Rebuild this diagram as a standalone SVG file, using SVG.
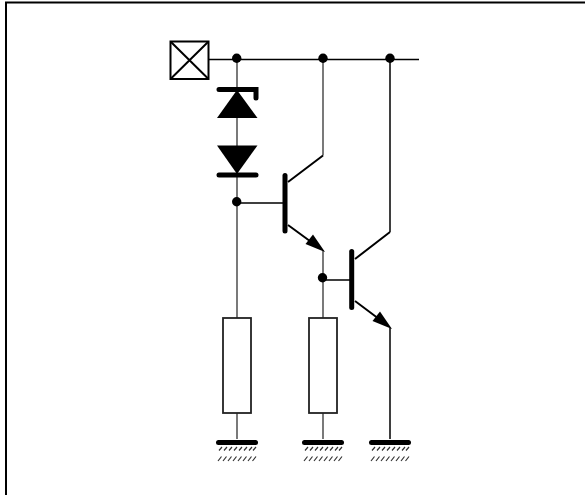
<svg xmlns="http://www.w3.org/2000/svg" width="585" height="495" viewBox="0 0 585 495">
<defs>
<style>
.w{fill:none;stroke:#000;stroke-width:1.5}
.g{fill:none;stroke:#333;stroke-width:1.3}
.t{fill:none;stroke:#000;stroke-width:2}
.b{fill:none;stroke:#000;stroke-linecap:round}
.h{fill:none;stroke:#333;stroke-width:1.2}
.d{fill:#000}
.r{fill:#fff;stroke:#222;stroke-width:1.8}
</style>
<g id="gnd"><path class="b" d="M-18.500 1.500H18.500" stroke-width="5"/><path class="h" d="M-18 9.500L-15 6M-13 9.500L-10 6M-8 9.500L-5 6M-3 9.500L0 6M2 9.500L5 6M7 9.500L10 6M12 9.500L15 6M16 9.500L19 6M-19 20L-15.500 15.500M-14 20L-10.500 15.500M-9 20L-5.500 15.500M-4 20L-0.500 15.500M1 20L4.500 15.500M6 20L9.500 15.500M11 20L14.500 15.500M15.500 20L19 15.500"/></g>
</defs>
<rect width="585" height="495" fill="#fff"/>
<path d="M6 495V2.500H585" fill="none" stroke="#000" stroke-width="2"/>
<g id="connectors">
<path class="w" d="M208 59.500H419"/>
<path class="g" d="M237 59V439M323 59V155.500M323 250V439"/>
<path class="w" d="M390 59V232M390 328V439M237 203H285M323 280H351"/>
<path class="t" d="M323 155.500L288 182M288 225L316 245.500M390 232L355 259M355 301L383 322"/>
</g>
<g id="terminal"><rect x="170.500" y="41.500" width="38" height="37.500" fill="#fff" stroke="#000" stroke-width="2"/><path class="t" d="M171 42L208 78.500M208 42L171 78.500"/></g>
<g id="zener"><path class="d" d="M237 90L257.500 118H217Z"/><path class="b" d="M219 89.500H256V98" stroke-width="5"/></g>
<g id="diode"><path class="d" d="M217 145.500H257.500L237 174Z"/><path class="b" d="M219 175H256" stroke-width="5"/></g>
<g id="junction1"><circle class="d" cx="236.700" cy="58.300" r="4.700"/></g>
<g id="junction2"><circle class="d" cx="323" cy="58.300" r="4.700"/></g>
<g id="junction3"><circle class="d" cx="390" cy="58.300" r="4.700"/></g>
<g id="junction4"><circle class="d" cx="236.700" cy="201.700" r="4.700"/></g>
<g id="junction5"><circle class="d" cx="322.500" cy="277.700" r="4.700"/></g>
<g id="q1"><path class="b" d="M285 175.500V231" stroke-width="5"/><path class="d" d="M325 252L305.500 244L313 234.500Z"/></g>
<g id="q2"><path class="b" d="M351.700 251.500V307.500" stroke-width="5"/><path class="d" d="M392 329L372.500 321L380 311.500Z"/></g>
<g id="r1"><rect class="r" x="223" y="318" width="28" height="95"/></g>
<g id="r2"><rect class="r" x="309" y="318" width="28" height="95"/></g>
<use id="ground1" href="#gnd" x="237" y="441"/>
<use id="ground2" href="#gnd" x="323" y="441"/>
<use id="ground3" href="#gnd" x="390" y="441"/>
</svg>
